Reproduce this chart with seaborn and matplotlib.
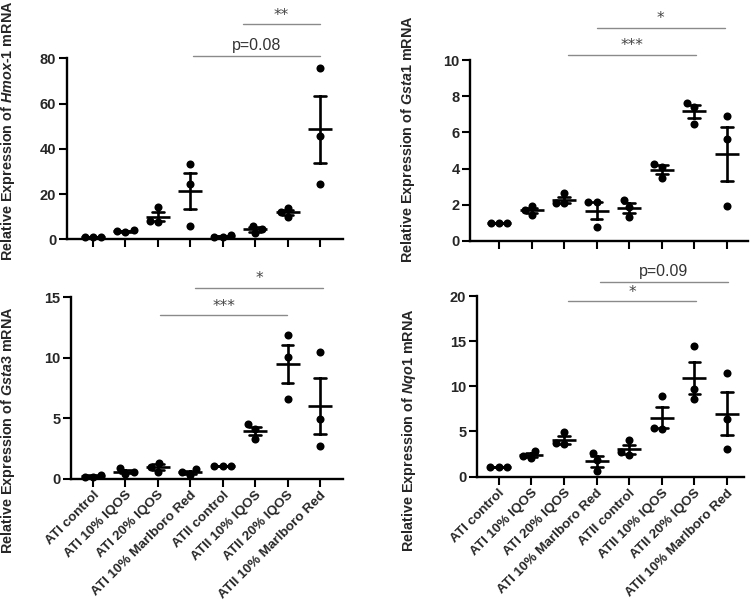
import numpy as np
import pandas as pd
import matplotlib
matplotlib.use("Agg")
import matplotlib.pyplot as plt
import seaborn as sns

groups = ["ATI control", "ATI 10% IQOS", "ATI 20% IQOS", "ATI 10% Marlboro Red",
          "ATII control", "ATII 10% IQOS", "ATII 20% IQOS", "ATII 10% Marlboro Red"]

hmox1 = [[1.0, 1.0, 1.0], [3.1, 4.1, 3.6], [14.1, 7.5, 8.3], [33.1, 24.6, 6.0],
         [0.9, 1.9, 1.0], [6.0, 2.6, 4.4], [13.7, 10.0, 12.1], [75.8, 45.6, 24.3]]
gsta1 = [[1.0, 1.0, 1.0], [1.9, 1.45, 1.7], [2.62, 2.1, 2.1], [2.12, 2.12, 0.78],
         [2.24, 1.87, 1.33], [4.27, 4.1, 3.46], [7.65, 7.4, 6.47], [6.93, 5.62, 1.9]]
gsta3 = [[0.15, 0.3, 0.15], [0.35, 0.85, 0.5], [1.3, 0.56, 0.98], [0.29, 0.76, 0.51],
         [1.0, 1.0, 1.0], [4.48, 4.09, 3.26], [11.88, 10.07, 6.55], [10.48, 4.94, 2.69]]
nqo1 = [[1.0, 1.0, 1.0], [2.8, 2.0, 2.3], [4.9, 3.6, 3.7], [2.6, 1.8, 0.6],
        [4.0, 2.4, 2.7], [8.94, 5.24, 5.42], [14.5, 9.69, 8.58], [11.46, 6.39, 3.09]]

hmox1_sig = [(4.63, 7.0, 95, "**"), (3.08, 7.0, 81, "p=0.08")]
gsta1_sig = [(3.0, 6.94, 11.8, "*"), (2.12, 6.05, 10.3, "***")]
gsta3_sig = [(3.15, 7.09, 15.8, "*"), (2.07, 5.98, 13.5, "***")]
nqo1_sig = [(3.1, 7.03, 21.6, "p=0.09"), (2.12, 6.05, 19.4, "*")]

sns.set_theme(style="ticks")
plt.rcParams["font.family"] = ["Liberation Sans", "DejaVu Sans"]
plt.rcParams["mathtext.fontset"] = "custom"
plt.rcParams["mathtext.rm"] = "Liberation Sans:bold"
plt.rcParams["mathtext.it"] = "Liberation Sans:italic:bold"
plt.rcParams["mathtext.bf"] = "Liberation Sans:bold"

fig = plt.figure(figsize=(7.5, 6.02), dpi=100)
W, H = 750, 602

panels = [
    dict(data=hmox1, sig=hmox1_sig, ymax=80, yt=[0, 20, 40, 60, 80],
         label=r"Relative Expression of $\it{Hmox}$-$\it{1}$ mRNA",
         box=(66.7, 343, 239.3, 58.3), xl=(-0.81, 7.71), lab=(17, 131), xt=False),
    dict(data=gsta1, sig=gsta1_sig, ymax=10, yt=[0, 2, 4, 6, 8, 10],
         label=r"Relative Expression of $\it{Gsta1}$ mRNA",
         box=(470, 748, 240.7, 60.3), xl=(-0.89, 7.65), lab=(417, 139), xt=False),
    dict(data=gsta3, sig=gsta3_sig, ymax=15, yt=[0, 5, 10, 15],
         label=r"Relative Expression of $\it{Gsta3}$ mRNA",
         box=(71, 343, 478.5, 297.3), xl=(-0.68, 7.71), lab=(17, 430), xt=True),
    dict(data=nqo1, sig=nqo1_sig, ymax=20, yt=[0, 5, 10, 15, 20],
         label=r"Relative Expression of $\it{Nqo1}$ mRNA",
         box=(476.7, 744, 476.5, 296), xl=(-0.68, 7.52), lab=(418, 430), xt=True),
]

for p in panels:
    x0, x1, yb, yt_ = p["box"]
    ax = fig.add_axes([x0 / W, 1 - yb / H, (x1 - x0) / W, (yb - yt_) / H])
    ax.set_facecolor("none")
    df = pd.DataFrame({
        "group": [g for g, vals in zip(groups, p["data"]) for _ in vals],
        "value": [v for vals in p["data"] for v in vals],
    })
    ax.set_xlim(*p["xl"])
    ax.set_ylim(0, p["ymax"])
    sns.swarmplot(data=df, x="group", y="value", order=groups, color="black",
                  size=5.8, ax=ax, clip_on=False, zorder=3)
    sns.pointplot(data=df, x="group", y="value", order=groups, color="black",
                  errorbar="se", capsize=0.36, marker="_", markersize=17,
                  markeredgewidth=1.9, linestyle="none",
                  err_kws={"linewidth": 1.9}, ax=ax, zorder=4)
    ax.set_xlim(*p["xl"])
    ax.set_ylim(0, p["ymax"])
    ax.set_yticks(p["yt"])
    ax.set_yticklabels([str(v) for v in p["yt"]], fontweight="bold", fontsize=10.5)
    ax.set_xticks(range(len(groups)))
    if p["xt"]:
        ax.set_xticklabels(groups, rotation=45, ha="right", rotation_mode="anchor",
                           fontweight="bold", fontsize=9.7)
    else:
        ax.set_xticklabels([])
    ax.set_xlabel("")
    ax.set_ylabel(p["label"], fontsize=10.4, fontweight="bold")
    lx, ly = p["lab"]
    ax.yaxis.set_label_coords((lx - x0) / (x1 - x0), (yb - ly) / (yb - yt_))
    for s in ["top", "right"]:
        ax.spines[s].set_visible(False)
    for s in ["left", "bottom"]:
        ax.spines[s].set_linewidth(1.7)
        ax.spines[s].set_color("black")
    ax.tick_params(axis="both", width=1.5, length=5.5, color="black", pad=2)
    for (a, b, y, txt) in p["sig"]:
        ax.plot([a, b], [y, y], color="#8a8a8a", lw=1.0, clip_on=False)
        if txt.startswith("*"):
            ax.annotate(txt, xy=((a + b) / 2, y), xytext=(0, 1), textcoords="offset points",
                        ha="center", va="bottom", fontsize=11, color="#444444",
                        family="DejaVu Sans", annotation_clip=False)
        else:
            ax.annotate(txt, xy=((a + b) / 2, y), xytext=(0, 2), textcoords="offset points",
                        ha="center", va="bottom", fontsize=11.5, color="#333333",
                        annotation_clip=False)

fig.savefig("out.png", dpi=100)
